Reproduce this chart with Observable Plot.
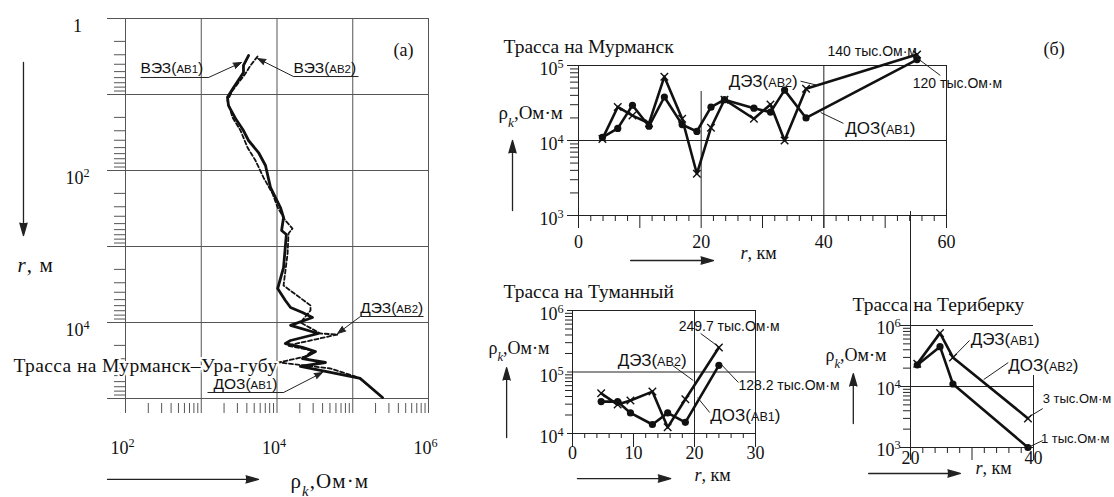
<!DOCTYPE html>
<html><head><meta charset="utf-8">
<script src="https://cdn.jsdelivr.net/npm/d3@7"></script>
<script src="https://cdn.jsdelivr.net/npm/@observablehq/plot@0.6"></script>
<style>
html,body{margin:0;padding:0;background:#fff;overflow:hidden;}
#chart{position:relative;width:1114px;height:497px;overflow:hidden;background:#fff;}
#chart svg{position:absolute;left:0;top:0;background:none !important;overflow:visible;max-width:none !important;}
</style></head><body><div id="chart"></div>
<script>
// ================= DATA =================
// Panel (a): Трасса на Мурманск–Ура-губу — depth r (m) vs apparent resistivity (Ом·м)
const aDepthAB1 = [3.07, 4.15, 5.14, 8.09, 10.9, 14.0, 20.7, 29.8, 40.3, 58, 86, 167, 307, 415, 616, 695, 1890, 3570, 5140, 6350, 7390, 8590, 10900, 13960, 17260, 18900, 21300, 24100, 29800, 33600, 37900, 42800, 54500, 97000];
const aRhoAB1   = [4210, 3610, 3610, 2670, 2220, 2290, 2830, 3610, 4210, 5700, 7050, 8200, 11100, 12200, 11500, 13300, 12200, 10200, 12900, 15100, 21700, 29400, 15100, 35300, 15100, 12900, 21700, 32200, 21700, 43600, 20400, 37500, 126000, 247000];
const aDepthAB2 = [3.16, 4.15, 5.29, 8.86, 12.0, 20.1, 29.8, 49.8, 73.9, 124, 201, 307, 455, 580, 674, 1240, 3260, 5970, 6950, 10000, 13960, 14400, 20100, 23400, 28000, 33600, 36800, 40300, 52900, 97000];
const aRhoAB2   = [5530, 4470, 3840, 2590, 2220, 2590, 3300, 4080, 5200, 6640, 8730, 10200, 12900, 16000, 14200, 13800, 12200, 27700, 27700, 20400, 37500, 63000, 13800, 29400, 23800, 10500, 23800, 50800, 119000, 247000];
const aXTickVals = [1e2, 1e4, 1e6];
const aXTickText = ["10^2", "10^4", "10^6"];
const aYTickVals = [1, 1e2, 1e4];
const aYTickText = ["1", "10^2", "10^4"];
const aGridX = [1e2, 1e3, 1e4, 1e5, 1e6];
const aGridY = [1, 10, 1e2, 1e3, 1e4, 1e5];

// Panel: Трасса на Мурманск
const mKm  = [3.9, 6.4, 8.8, 11.5, 14.0, 16.9, 19.3, 21.6, 23.8, 28.6, 31.3, 33.6, 37.1, 55.2];
const mDEZ = [10500, 28000, 21500, 17000, 71000, 19500, 3600, 14800, 35000, 19500, 30200, 10000, 49000, 140000];
const mDOZ = [11000, 14500, 29500, 15500, 38000, 16300, 13200, 27800, 35000, 27000, 23900, 47000, 20000, 120000];
const mXTicks = [0, 20, 40, 60];
const mYTickVals = [1e5, 1e4, 1e3];
const mYTickText = ["10^5", "10^4", "10^3"];

// Panel: Трасса на Туманный
const tKm  = [4.7, 7.4, 9.5, 13.1, 15.6, 18.5, 24.0];
const tDEZ = [45000, 29500, 34500, 48000, 12600, 36000, 249700];
const tDOZ = [33000, 33000, 21600, 14000, 21600, 15200, 128200];
const tXTicks = [0, 10, 20, 30];
const tYTickVals = [1e6, 1e5, 1e4];
const tYTickText = ["10^6", "10^5", "10^4"];

// Panel: Трасса на Териберку
const teKm  = [21.1, 24.8, 26.9, 39.1];
const teDEZ = [23500, 75000, 30000, 3000];
const teDOZ = [22500, 45000, 11000, 1000];
const teXTicks = [20, 40];
const teYTickVals = [1e5, 1e4, 1e3];
const teYTickText = ["10^6", "10^4", "10^3"];

// ================= HELPERS =================
const W = 1114, H = 497;
const serif = "'Liberation Serif','DejaVu Serif',serif";
const sans = "'Liberation Sans',Arial,sans-serif";
const minorLog = (e0, e1) => d3.range(e0, e1).flatMap(e => d3.range(2, 10).map(m => m * 10 ** e));
const minorLin = (a, b, step, skip) => d3.range(a, b + 1e-9, step).filter(v => Math.abs(v % skip) > 1e-9);
const frame = (l, t, r, b) => ({marginLeft: l, marginTop: t, marginRight: W - r, marginBottom: H - b});
const lbl = (text, opts) => Plot.text([text], {text: d => d, ...opts});
const serifOpts = {fontFamily: serif, fontSize: 18, fill: "#111"};
const titleOpts = {fontFamily: serif, fontSize: 19.5, fill: "#111"};
const noteOpts = {x: "x", y: "y", text: "text", textAnchor: "start", fontFamily: sans, fill: "#111"};

function enrich(svg, spacing = {}) {
  svg.querySelectorAll("text").forEach(t => {
    const s = t.textContent;
    if (s in spacing) t.style.letterSpacing = spacing[s] + "px";
    if (!/[\^_*]|\(AB\d\)|Ом·м/.test(s)) return;
    let h = s.replace(/&/g, "&amp;").replace(/</g, "&lt;");
    h = h.replace(/\^(\d+)/g, '<tspan baseline-shift="super" font-size="68%">$1</tspan>');
    h = h.replace(/ρ_k/g, 'ρ<tspan baseline-shift="sub" font-size="70%" font-style="italic">k</tspan>');
    h = h.replace(/\*(.+?)\*/g, '<tspan font-style="italic">$1</tspan>');
    h = h.replace(/\((AB\d)\)/g, '(<tspan font-size="74%">$1</tspan>)');
    t.innerHTML = h;
  });
  return svg;
}
const chart = document.getElementById("chart");
const add = (svg, spacing) => chart.appendChild(enrich(svg, spacing));

// ================= PANEL (a) =================
const aTitle = "Трасса на Мурманск–Ура-губу";
const aAB1 = aDepthAB1.map((r, i) => ({r, rho: aRhoAB1[i]}));
const aAB2 = aDepthAB2.map((r, i) => ({r, rho: aRhoAB2[i]}));
const aNotes = [
  {text: "ВЭЗ(AB1)", x: 158, y: 4.55},
  {text: "ВЭЗ(AB2)", x: 16500, y: 4.55},
  {text: "ДЭЗ(AB2)", x: 126000, y: 6540},
  {text: "ДОЗ(AB1)", x: 1450, y: 65400}
];
const aUnder = [
  {x1: 158, x2: 1250, y1: 5.97, y2: 5.97},
  {x1: 16500, x2: 119000, y1: 5.8, y2: 5.8},
  {x1: 126000, x2: 859000, y1: 8340, y2: 8340},
  {x1: 1210, x2: 12200, y1: 83400, y2: 83400}
];
const aLeaders = [
  {x1: 1250, y1: 5.97, x2: 3400, y2: 3.79},
  {x1: 16500, y1: 5.8, x2: 5530, y2: 3.36},
  {x1: 126000, y1: 8340, x2: 63000, y2: 13960},
  {x1: 12200, y1: 83400, x2: 39900, y2: 45500}
];
const aAxisArrows = [
  {x1: 4.5, x2: 4.5, y1: 3.79, y2: 717},
  {x1: 57.9, x2: 5700, y1: 1.16e6, y2: 1.16e6}
];
add(Plot.plot({
  width: W, height: H, ...frame(125, 18, 428, 398),
  x: {type: "log", domain: [1e2, 1e6], axis: null},
  y: {type: "log", domain: [1, 1e5], reverse: true, axis: null},
  marks: [
    Plot.ruleY(aGridY, {stroke: "#555", strokeWidth: 1, insetLeft: -18}),
    Plot.ruleX(aGridX, {stroke: "#555", strokeWidth: 1, insetBottom: -15}),
    Plot.ruleY(minorLog(0, 5), {stroke: "#555", strokeWidth: 1, insetLeft: -11, insetRight: 303}),
    Plot.ruleX(minorLog(2, 6), {stroke: "#555", strokeWidth: 1, insetTop: 385, insetBottom: -15}),
    Plot.line(aAB2, {x: "rho", y: "r", stroke: "#111", strokeWidth: 1.8, strokeDasharray: "4,2.5"}),
    Plot.line(aAB1, {x: "rho", y: "r", stroke: "#111", strokeWidth: 2.8}),
    Plot.link(aUnder, {x1: "x1", x2: "x2", y1: "y1", y2: "y2", stroke: "#222", strokeWidth: 1}),
    Plot.arrow(aLeaders, {x1: "x1", y1: "y1", x2: "x2", y2: "y2", stroke: "#222", fill: "#222", strokeWidth: 1, headLength: 13, headAngle: 40}),
    Plot.arrow(aAxisArrows, {x1: "x1", y1: "y1", x2: "x2", y2: "y2", stroke: "#222", fill: "#222", strokeWidth: 1.3, headLength: 15, headAngle: 32}),
    Plot.text(aNotes, {...noteOpts, fontSize: 15.5}),
    Plot.text(aXTickVals, {x: d => d, text: (d, i) => aXTickText[i], frameAnchor: "bottom", dy: 55, dx: -3, ...serifOpts}),
    Plot.text(aYTickVals, {y: d => d, text: (d, i) => aYTickText[i], frameAnchor: "left", textAnchor: "middle", dx: -48, dy: 8, ...serifOpts}),
    lbl("(a)", {frameAnchor: "top-right", textAnchor: "end", dx: -15, dy: 25, ...serifOpts}),
    lbl("*r*, м", {frameAnchor: "left", textAnchor: "start", dx: -108, dy: 57, ...serifOpts, fontSize: 21}),
    lbl("ρ_k,Ом·м", {frameAnchor: "bottom-left", textAnchor: "start", dx: 165, dy: 89, ...serifOpts, fontSize: 21}),
    lbl(aTitle, {frameAnchor: "top-left", textAnchor: "start", dx: -112, dy: 340, ...titleOpts, stroke: "white", strokeWidth: 4})
  ]
}), {[aTitle]: 0.4, "*r*, м": 1.1, "ρ_k,Ом·м": 1.1});

// ================= PANEL Мурманск =================
const mTable = mKm.map((km, i) => ({km, dez: mDEZ[i], doz: mDOZ[i]}));
const mNotes = [
  {text: "140 тыс.Ом·м", x: 40.6, y: 154000, size: 14},
  {text: "120 тыс.Ом·м", x: 54.5, y: 57500, size: 14},
  {text: "ДЭЗ(AB2)", x: 24.5, y: 61200, size: 17},
  {text: "ДОЗ(AB1)", x: 43.5, y: 14450, size: 17}
];
const mLeaders = [
  {x1: 55.3, y1: 124000, x2: 59.0, y2: 73600},
  {x1: 36.2, y1: 61800, x2: 39.1, y2: 54100},
  {x1: 43.2, y1: 16900, x2: 39.5, y2: 23600}
];
const mAxisArrows = [
  {x1: -10.76, x2: -10.76, y1: 1166, y2: 10000},
  {x1: 8.5, x2: 22, y1: 251, y2: 251}
];
add(Plot.plot({
  width: W, height: H, ...frame(578, 65, 946, 215),
  x: {domain: [0, 60], axis: null},
  y: {type: "log", domain: [1e3, 1e5], axis: null},
  marks: [
    Plot.ruleY(mYTickVals, {stroke: "#222", strokeWidth: 1, insetLeft: -11}),
    Plot.ruleX([0, 40, 60], {stroke: "#222", strokeWidth: 1, insetBottom: -13}),
    Plot.ruleX([20], {y1: 45000, y2: 1e3, stroke: "#222", strokeWidth: 1}),
    Plot.ruleX(d3.range(0, 61, 10), {stroke: "#222", strokeWidth: 1, insetTop: 150, insetBottom: -13}),
    Plot.ruleX(minorLin(2, 58, 2, 10), {stroke: "#222", strokeWidth: 1, insetTop: 150, insetBottom: -6}),
    Plot.ruleY(minorLog(3, 5), {stroke: "#222", strokeWidth: 1, insetLeft: -8, insetRight: 368}),
    Plot.line(mTable, {x: "km", y: "dez", stroke: "#111", strokeWidth: 2.6}),
    Plot.line(mTable, {x: "km", y: "doz", stroke: "#111", strokeWidth: 2.6}),
    Plot.dot(mTable, {x: "km", y: "dez", symbol: "times", r: 3.5, stroke: "#111", strokeWidth: 1.4}),
    Plot.dot(mTable, {x: "km", y: "doz", r: 3.6, fill: "#111"}),
    Plot.link(mLeaders, {x1: "x1", x2: "x2", y1: "y1", y2: "y2", stroke: "#222", strokeWidth: 1}),
    Plot.arrow(mAxisArrows, {x1: "x1", y1: "y1", x2: "x2", y2: "y2", stroke: "#222", fill: "#222", strokeWidth: 1.3, headLength: 15, headAngle: 32}),
    Plot.text(mNotes, {...noteOpts, fontSize: d => d.size}),
    Plot.text(mXTicks, {x: d => d, text: d => String(d), frameAnchor: "bottom", dy: 32, ...serifOpts}),
    Plot.text(mYTickVals, {y: d => d, text: (d, i) => mYTickText[i], frameAnchor: "left", textAnchor: "end", dx: -15, dy: 4, ...serifOpts}),
    lbl("Трасса на Мурманск", {frameAnchor: "top-left", textAnchor: "start", dx: -75, dy: -26, ...titleOpts}),
    lbl("(б)", {frameAnchor: "top-right", textAnchor: "start", dx: 97, dy: -23, ...serifOpts}),
    lbl("ρ_k,Ом·м", {frameAnchor: "left", textAnchor: "start", dx: -80, dy: -28, ...serifOpts, fontSize: 19}),
    lbl("*r*, км", {frameAnchor: "bottom-left", textAnchor: "start", dx: 162, dy: 43, ...serifOpts})
  ]
}));

// ================= PANEL Туманный =================
const tTable = tKm.map((km, i) => ({km, dez: tDEZ[i], doz: tDOZ[i]}));
const tNotes = [
  {text: "249.7 тыс.Ом·м", x: 17.4, y: 550000, size: 14},
  {text: "128.2 тыс.Ом·м", x: 27.2, y: 60300, size: 14},
  {text: "ДЭЗ(AB2)", x: 7.4, y: 154000, size: 17},
  {text: "ДОЗ(AB1)", x: 22.6, y: 19600, size: 17}
];
const tLeaders = [
  {x1: 21.0, y1: 423000, x2: 23.9, y2: 260000},
  {x1: 24.4, y1: 132000, x2: 27.2, y2: 67500},
  {x1: 16.4, y1: 128000, x2: 19.8, y2: 72800},
  {x1: 22.5, y1: 21900, x2: 20.5, y2: 38400}
];
const tAxisArrows = [
  {x1: -10.8, x2: -10.8, y1: 8610, y2: 118000},
  {x1: 0.8, x2: 16.1, y1: 1850, y2: 1850}
];
add(Plot.plot({
  width: W, height: H, ...frame(572, 310, 755, 433),
  x: {domain: [0, 30], axis: null},
  y: {type: "log", domain: [1e4, 1e6], axis: null},
  marks: [
    Plot.ruleY(tYTickVals, {stroke: "#222", strokeWidth: 1, insetLeft: -5}),
    Plot.ruleX([0, 20, 30], {stroke: "#222", strokeWidth: 1, insetBottom: -14}),
    Plot.ruleX(tXTicks, {stroke: "#222", strokeWidth: 1, insetTop: 123, insetBottom: -14}),
    Plot.ruleX(minorLin(2, 28, 2, 10), {stroke: "#222", strokeWidth: 1, insetTop: 123, insetBottom: -5}),
    Plot.ruleY(minorLog(4, 6), {stroke: "#222", strokeWidth: 1, insetLeft: -7, insetRight: 183}),
    Plot.line(tTable, {x: "km", y: "dez", stroke: "#111", strokeWidth: 2.6}),
    Plot.line(tTable, {x: "km", y: "doz", stroke: "#111", strokeWidth: 2.6}),
    Plot.dot(tTable, {x: "km", y: "dez", symbol: "times", r: 3.5, stroke: "#111", strokeWidth: 1.4}),
    Plot.dot(tTable, {x: "km", y: "doz", r: 3.6, fill: "#111"}),
    Plot.link(tLeaders, {x1: "x1", x2: "x2", y1: "y1", y2: "y2", stroke: "#222", strokeWidth: 1}),
    Plot.arrow(tAxisArrows, {x1: "x1", y1: "y1", x2: "x2", y2: "y2", stroke: "#222", fill: "#222", strokeWidth: 1.3, headLength: 15, headAngle: 32}),
    Plot.text(tNotes, {...noteOpts, fontSize: d => d.size}),
    Plot.text(tXTicks, {x: d => d, text: d => String(d), frameAnchor: "bottom", dy: 25, ...serifOpts}),
    Plot.text(tYTickVals, {y: d => d, text: (d, i) => tYTickText[i], frameAnchor: "left", textAnchor: "end", dx: -9, dy: 4, ...serifOpts}),
    lbl("Трасса на Туманный", {frameAnchor: "top-left", textAnchor: "start", dx: -69, dy: -26, ...titleOpts}),
    lbl("ρ_k,Ом·м", {frameAnchor: "left", textAnchor: "start", dx: -84, dy: -24, ...serifOpts}),
    lbl("*r*, км", {frameAnchor: "bottom-left", textAnchor: "start", dx: 122, dy: 47, ...serifOpts})
  ]
}));

// ================= PANEL Териберка =================
const teTable = teKm.map((km, i) => ({km, dez: teDEZ[i], doz: teDOZ[i]}));
const teNotes = [
  {text: "ДЭЗ(AB1)", x: 29.8, y: 59000, size: 17},
  {text: "ДОЗ(AB2)", x: 35.9, y: 22100, size: 17},
  {text: "3 тыс.Ом·м", x: 41.5, y: 6350, size: 13},
  {text: "1 тыс.Ом·м", x: 41.2, y: 1400, size: 13}
];
const teLeaders = [
  {x1: 29.6, y1: 56800, x2: 27.2, y2: 32200},
  {x1: 35.9, y1: 24700, x2: 31.9, y2: 13000},
  {x1: 39.1, y1: 3100, x2: 41.5, y2: 4350},
  {x1: 39.1, y1: 1000, x2: 41.5, y2: 1300}
];
const teAxisArrows = [
  {x1: 10.7, x2: 10.7, y1: 2470, y2: 16300},
  {x1: 13.2, x2: 28.1, y1: 375, y2: 375}
];
add(Plot.plot({
  width: W, height: H, ...frame(910, 325, 1033, 447),
  x: {domain: [20, 40], axis: null},
  y: {type: "log", domain: [1e3, 1e5], axis: null},
  marks: [
    lbl("Трасса на Териберку", {frameAnchor: "top-left", textAnchor: "start", dx: -58, dy: -28, ...titleOpts}),
    Plot.ruleY(teYTickVals, {stroke: "#222", strokeWidth: 1, insetLeft: -10}),
    Plot.ruleX([20], {stroke: "#222", strokeWidth: 1, insetTop: -114, insetBottom: -13}),
    Plot.ruleX([40], {stroke: "#222", strokeWidth: 1, insetTop: 50, insetBottom: -13}),
    Plot.ruleX([30], {stroke: "#222", strokeWidth: 1, insetTop: 122, insetBottom: -13}),
    Plot.ruleX(minorLin(22, 38, 2, 10), {stroke: "#222", strokeWidth: 1, insetTop: 122, insetBottom: -6}),
    Plot.ruleY(minorLog(3, 5), {stroke: "#222", strokeWidth: 1, insetLeft: -7, insetRight: 123}),
    Plot.line(teTable, {x: "km", y: "dez", stroke: "#111", strokeWidth: 2.6}),
    Plot.line(teTable, {x: "km", y: "doz", stroke: "#111", strokeWidth: 2.6}),
    Plot.dot(teTable, {x: "km", y: "dez", symbol: "times", r: 3.5, stroke: "#111", strokeWidth: 1.4}),
    Plot.dot(teTable, {x: "km", y: "doz", r: 3.6, fill: "#111"}),
    Plot.link(teLeaders, {x1: "x1", x2: "x2", y1: "y1", y2: "y2", stroke: "#222", strokeWidth: 1}),
    Plot.arrow(teAxisArrows, {x1: "x1", y1: "y1", x2: "x2", y2: "y2", stroke: "#222", fill: "#222", strokeWidth: 1.3, headLength: 15, headAngle: 32}),
    Plot.text(teNotes, {...noteOpts, fontSize: d => d.size}),
    Plot.text(teXTicks, {x: d => d, text: d => String(d), frameAnchor: "bottom", dy: 16, ...serifOpts}),
    Plot.text(teYTickVals, {y: d => d, text: (d, i) => teYTickText[i], frameAnchor: "left", textAnchor: "end", dx: -10, dy: 3, ...serifOpts}),
    lbl("ρ_k,Ом·м", {frameAnchor: "left", textAnchor: "start", dx: -85, dy: -31, ...serifOpts}),
    lbl("*r*, км", {frameAnchor: "bottom-left", textAnchor: "start", dx: 65, dy: 26, ...serifOpts})
  ]
}));
</script></body></html>
